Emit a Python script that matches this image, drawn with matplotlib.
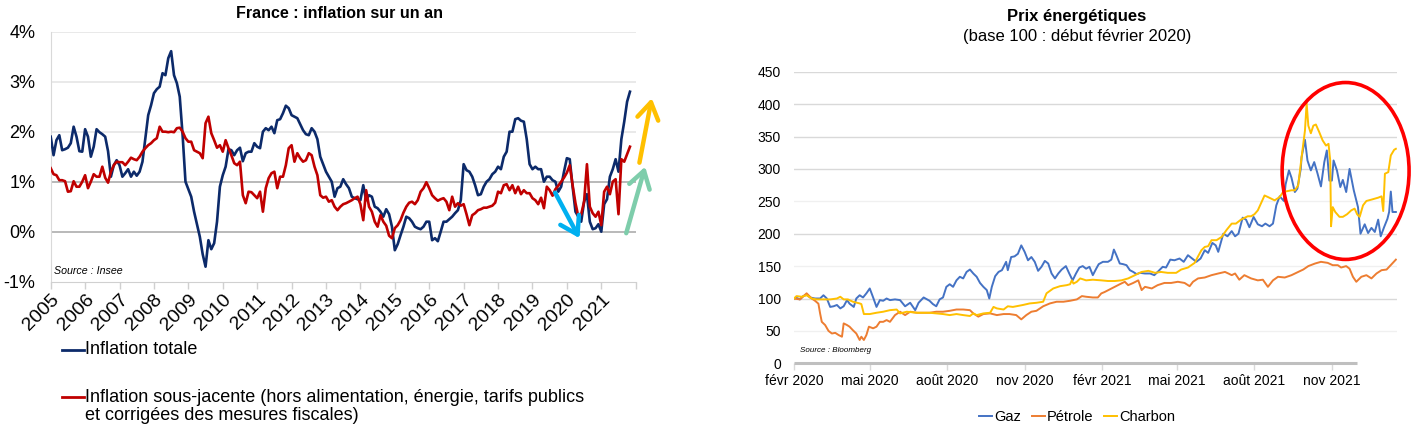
import numpy as np
import pandas as pd
import matplotlib
matplotlib.use('Agg')
import matplotlib.pyplot as plt
import matplotlib.dates as mdates
from matplotlib.lines import Line2D
from matplotlib.patches import Ellipse

plt.rcParams['font.family'] = ['Liberation Sans', 'DejaVu Sans']

# ---------------- Left chart data (monthly, Jan 2005 - Nov 2021, % y/y) -------------
years = [str(y) for y in range(2005, 2022)]
infl_totale = [
    1.9, 1.53, 1.83, 1.93, 1.63, 1.65, 1.68, 1.77, 2.1, 1.9, 1.61, 1.6,
    2.05, 1.9, 1.5, 1.7, 2.05, 1.99, 1.95, 1.9, 1.61, 1.1, 1.33, 1.43,
    1.33, 1.1, 1.17, 1.25, 1.1, 1.2, 1.12, 1.2, 1.4, 1.87, 2.33, 2.53,
    2.77, 2.85, 2.9, 3.17, 3.13, 3.47, 3.61, 3.13, 2.97, 2.7, 1.93, 1.0,
    0.85, 0.7, 0.4, 0.15, -0.1, -0.45, -0.7, -0.17, -0.35, -0.23, 0.2, 0.9,
    1.13, 1.3, 1.65, 1.63, 1.53, 1.63, 1.68, 1.41, 1.57, 1.6, 1.6, 1.77,
    1.7, 1.67, 2.0, 2.07, 2.03, 2.1, 1.97, 2.23, 2.25, 2.37, 2.52, 2.47,
    2.33, 2.3, 2.27, 2.15, 2.03, 1.95, 1.93, 2.07, 2.0, 1.85, 1.5, 1.35,
    1.2, 1.1, 1.0, 0.7, 0.87, 0.9, 1.05, 0.95, 0.87, 0.7, 0.67, 0.65,
    0.63, 0.93, 0.63, 0.73, 0.7, 0.5, 0.47, 0.4, 0.3, 0.45, 0.35, 0.1,
    -0.37, -0.25, -0.07, 0.1, 0.3, 0.27, 0.2, 0.1, 0.07, 0.05, 0.1, 0.2,
    0.2, -0.17, -0.13, -0.19, 0.0, 0.2, 0.2, 0.25, 0.3, 0.37, 0.43, 0.63,
    1.35, 1.23, 1.2, 1.1, 0.93, 0.73, 0.75, 0.9, 1.0, 1.05, 1.15, 1.2,
    1.3, 1.25, 1.5, 1.6, 2.0, 2.0, 2.25, 2.27, 2.22, 2.2, 1.85, 1.35,
    1.25, 1.3, 1.25, 1.25, 1.0, 1.1, 1.1, 1.03, 1.0, 0.8, 0.9, 1.2,
    1.47, 1.45, 0.9, 0.4, 0.3, 0.2, 0.6, 0.75, 0.2, 0.05, 0.07, 0.15,
    0.0, 0.55, 0.65, 1.1, 1.25, 1.45, 1.2, 1.85, 2.2, 2.6, 2.8,
]
infl_sous_jacente = [
    1.27, 1.15, 1.13, 1.03, 1.03, 1.01, 0.8, 0.81, 1.01, 0.9, 0.9, 1.0,
    1.13, 0.87, 1.0, 1.15, 1.1, 1.1, 1.3, 1.08, 0.98, 1.2, 1.33, 1.4,
    1.39, 1.39, 1.33, 1.4, 1.48, 1.45, 1.43, 1.5, 1.6, 1.67, 1.73, 1.77,
    1.83, 1.87, 2.1, 2.0, 2.0, 1.99, 2.0, 1.99, 2.07, 2.08, 2.0, 1.87,
    1.8, 1.8, 1.63, 1.6, 1.57, 1.47, 2.17, 2.3, 1.97, 1.83, 1.68, 1.73,
    1.6, 1.83, 1.67, 1.53, 1.37, 1.33, 1.4, 0.73, 0.57, 0.8, 0.79, 0.73,
    0.67, 0.8, 0.4, 0.87, 1.07, 1.17, 1.2, 0.87, 1.1, 1.1, 1.33, 1.67,
    1.73, 1.4, 1.57, 1.47, 1.4, 1.43, 1.57, 1.53, 1.3, 1.13, 0.73, 0.68,
    0.7, 0.6, 0.63, 0.5, 0.43, 0.5, 0.55, 0.57, 0.6, 0.63, 0.67, 0.7,
    0.55, 0.23, 0.83, 0.5, 0.4, 0.2, 0.1, 0.33, 0.2, 0.12, -0.08, -0.13,
    0.07, 0.13, 0.23, 0.38, 0.5, 0.58, 0.6, 0.55, 0.63, 0.8, 0.87, 0.99,
    0.87, 0.73, 0.67, 0.62, 0.65, 0.67, 0.6, 0.43, 0.7, 0.5, 0.57, 0.52,
    0.55, 0.35, 0.13, 0.33, 0.37, 0.43, 0.45, 0.48, 0.48, 0.5, 0.52, 0.58,
    0.8, 0.77, 0.93, 0.95, 0.83, 0.93, 0.77, 0.9, 0.75, 0.83, 0.77, 0.77,
    0.67, 0.63, 0.55, 0.68, 0.47, 0.9, 0.83, 0.72, 0.85, 0.92, 1.0, 1.08,
    1.18, 1.33, 0.93, 0.57, 0.3, 0.35, 0.6, 1.35, 0.5, 0.37, 0.3, 0.4,
    0.13, 0.8, 0.9, 0.75, 1.0, 1.05, 0.35, 1.45, 1.4, 1.55, 1.7,
]
left_yticks = [-1, 0, 1, 2, 3, 4]
left_yticklabels = ['-1%', '0%', '1%', '2%', '3%', '4%']

# ---------------- Right chart data (days since 1 Feb 2020, base 100) -------------
gaz_days = [0, 3, 7, 11, 15, 19, 25, 31, 35, 39, 43, 47, 51, 55, 59, 63, 66, 71, 74, 78, 82, 86, 90, 94,
            98, 102, 106, 110, 114, 120, 126, 132, 138, 144, 148, 154, 158, 161, 165, 169, 173, 177,
            181, 185, 189, 193, 197, 201, 205, 209, 213, 217, 221, 225, 229, 232, 235, 239, 243, 247,
            252, 254, 258, 262, 266, 270, 274, 278, 282, 286, 290, 294, 298, 302, 306, 310, 314, 318,
            323, 327, 331, 335, 339, 343, 347, 351, 355, 359, 362, 367, 373, 377, 380, 383, 387, 391,
            395, 399, 403, 407, 411, 417, 423, 428, 432, 438, 442, 447, 452, 458, 463, 468, 473, 478,
            483, 488, 492, 497, 501, 504, 510, 515, 520, 524, 528, 533, 537, 541, 546, 551, 556, 560,
            565, 569, 573, 577, 582, 584, 588, 591, 595, 598, 602, 603, 607, 610, 614, 618, 622, 626,
            630, 633, 636, 639, 641, 645, 649, 652, 656, 660, 665, 670, 673, 678, 682, 686, 690, 694,
            697, 701, 705, 707, 709, 711, 715]
gaz = [100, 101, 98.6, 103.7, 106, 101.6, 100, 100, 105, 100, 87, 88, 90, 84.7, 88, 97.5, 92, 87, 100,
       105, 101.6, 108, 115.5, 101.6, 87, 97.5, 96.5, 100, 97.5, 98.6, 97.5, 88, 93.4, 82, 93.4, 101.6,
       98.6, 96.5, 91.4, 88, 98.6, 101.6, 118, 122, 118, 128, 133.5, 131, 141, 144.7, 138.6, 133.5, 124,
       118, 113, 100, 118, 134.5, 141, 143.7, 156.6, 143.7, 164, 165, 169, 182, 172, 159, 164, 156.6,
       142.7, 148.9, 158, 154, 138.6, 131, 138.6, 144.7, 150, 138.6, 128, 138.6, 147.8, 150, 146, 148.9,
       136, 146, 153, 156.6, 156.6, 160, 175.5, 166.8, 154, 153, 151.4, 143.7, 141, 137.6, 139.6, 138.6,
       138.6, 136, 141, 148.9, 147.8, 160, 159, 161.7, 156.6, 166.8, 161.7, 156.6, 161.7, 174.5, 170.4,
       185.8, 182, 172, 200, 196, 204, 196, 200, 224.8, 221.7, 210, 225.8, 214.5, 211.5, 215.6, 211.5,
       215.6, 243.8, 257.7, 250.5, 276, 297.7, 286.4, 264.3, 269.5, 300, 318, 345, 313, 297.7, 310.5,
       292.6, 273, 310.5, 328.5, 282, 282, 313, 297.7, 272, 283, 264.3, 300, 267, 241, 200, 214.5, 201,
       209, 202.7, 221.7, 196, 210, 223, 233.5, 265, 233.5, 233.5]

petrole_days = [0, 7, 15, 21, 25, 29, 31, 33, 37, 41, 45, 49, 53, 57, 59, 63, 66, 70, 74, 78, 80, 83, 86,
                89, 94, 98, 102, 106, 110, 114, 120, 126, 132, 138, 146, 154, 161, 169, 177, 185, 193,
                201, 209, 213, 219, 225, 233, 241, 249, 256, 264, 270, 276, 282, 288, 296, 304, 312, 320,
                328, 336, 342, 347, 355, 361, 365, 369, 375, 381, 387, 393, 397, 403, 409, 413, 417, 425,
                432, 440, 448, 456, 464, 470, 474, 480, 488, 496, 504, 512, 516, 520, 524, 529, 535, 543,
                551, 557, 563, 569, 575, 583, 591, 599, 605, 611, 619, 626, 634, 640, 646, 650, 656, 660,
                664, 668, 674, 680, 686, 692, 698, 704, 710, 715]
petrole = [100, 98.6, 108, 100, 96.5, 92, 77, 64, 59, 50, 46, 47, 43.6, 41, 61.6, 59, 56.5, 51, 46, 36,
           41, 36, 43.6, 56.5, 54, 56.5, 64, 64, 66.7, 64, 74.4, 79.6, 74.4, 79.6, 78, 78, 78, 79.6, 79.6,
           81, 83, 83, 82, 77, 72, 76, 77, 74.4, 76, 76, 74.4, 67.8, 74.4, 79.6, 81, 88, 92.4, 95, 95, 96.5,
           98.6, 103.7, 102.7, 101.6, 101.6, 107.8, 110, 114, 118, 122, 125.8, 120.6, 124, 128, 113, 118,
           115.5, 120.6, 124, 124, 125.8, 124, 119, 125.8, 131, 132.4, 136, 138.6, 141, 138.6, 136, 138.6,
           129, 136, 131, 128, 129, 118, 128, 133.5, 132.4, 136, 141, 144.7, 150, 154, 156.6, 155, 151.4,
           151.4, 147.8, 150, 146, 133.5, 125.8, 133.5, 136, 131, 138.6, 143.7, 144.7, 153, 160]

charbon_days = [0, 3, 9, 15, 21, 27, 35, 43, 51, 55, 59, 64, 70, 78, 80, 83, 90, 98, 106, 114, 122, 126,
                134, 146, 154, 161, 169, 177, 185, 193, 201, 209, 213, 217, 225, 233, 237, 241, 249, 254,
                260, 272, 280, 288, 296, 300, 308, 316, 324, 328, 330, 332, 336, 340, 347, 355, 365, 373,
                381, 389, 397, 405, 413, 421, 429, 436, 444, 454, 460, 468, 476, 480, 484, 488, 492, 496,
                502, 508, 514, 520, 525, 531, 539, 543, 547, 551, 555, 559, 563, 571, 577, 581, 587, 591,
                595, 599, 603, 607, 609, 611, 614, 617, 620, 624, 628, 632, 635, 637, 638, 640, 643, 648,
                652, 657, 662, 666, 669, 672, 676, 680, 686, 694, 698, 700, 702, 706, 709, 713, 715]
charbon = [100, 103.7, 102.7, 105, 100, 98.6, 98.6, 98.6, 100, 102.7, 98.6, 98.6, 95, 92.4, 91.4, 76, 76,
           78, 79.6, 82, 83, 77, 79.6, 78, 78, 78, 77, 76, 74.4, 76, 74.4, 73, 77, 74.4, 77, 78, 87, 84.7,
           83, 88, 87, 90, 92.4, 93.4, 95, 108, 115.5, 119, 120.6, 122, 128, 123, 125.8, 131, 128, 129, 128,
           127, 127, 128, 131, 136, 141, 142.7, 139.6, 141, 139.6, 139.6, 144.7, 147.8, 155, 165, 174.5,
           179.6, 180.7, 190, 190, 195, 206, 215.6, 215.6, 221.7, 226.9, 226.9, 230, 236, 247.4, 259, 256.6,
           251.5, 256.6, 264.3, 265.9, 267, 267, 274.6, 318, 359, 401.4, 366.8, 355, 366.8, 368.5, 356.7,
           344, 336, 338.7, 313, 211.5, 241, 233.5, 226, 226, 230, 236, 238.7, 230, 226, 243.8, 250.5,
           252.6, 255.6, 257.7, 235, 292.6, 295, 320.8, 329.5, 331]

right_tick_dates = ['2020-02-01', '2020-05-01', '2020-08-01', '2020-11-01',
                    '2021-02-01', '2021-05-01', '2021-08-01', '2021-11-01']
right_tick_labels = ['févr 2020', 'mai 2020', 'août 2020', 'nov 2020',
                     'févr 2021', 'mai 2021', 'août 2021', 'nov 2021']

# ---------------- Figure ----------------
W, H = 1418, 432
fig = plt.figure(figsize=(W / 100, H / 100), dpi=100)


def fx(px):
    return px / W


def fy(py):
    return 1 - py / H


NAVY = '#0c2a6a'
RED = '#c00000'

# ---------- Left ----------
axL = fig.add_axes([fx(50.7), fy(281.7), fx(635.7) - fx(50.7), fy(31.7) - fy(281.7)])
months = np.arange(len(infl_totale))
for v in left_yticks[1:]:
    axL.axhline(v, color='#a6a6a6' if v in (0, 1) else '#e3e3e3', lw=1.1, zorder=1)
axL.plot(months, infl_totale, color=NAVY, lw=1.9, zorder=3)
axL.plot(months, infl_sous_jacente, color=RED, lw=1.9, zorder=4)
axL.set_xlim(0, 204)
axL.set_ylim(-1, 4)
axL.set_yticks(left_yticks)
axL.set_yticklabels(left_yticklabels)
axL.set_xticks(np.arange(0, 205, 12))
axL.set_xticklabels(years + [''], rotation=45, ha='right', rotation_mode='anchor')
for s in ['top', 'right']:
    axL.spines[s].set_visible(False)
axL.spines['left'].set_color('#d9d9d9')
axL.spines['bottom'].set_color('#d0d0d0')
axL.tick_params(axis='y', length=0, pad=11, labelsize=13, colors='#000000')
axL.tick_params(axis='x', length=5, width=1, color='#d0d0d0', pad=2, labelsize=14)

arrow_kw = dict(arrowstyle='->,head_length=0.6,head_width=0.38', lw=3.2,
                mutation_scale=20, shrinkA=0, shrinkB=0)
axL.annotate('', xy=(184.4, -0.13), xytext=(175.9, 0.78),
             arrowprops=dict(color='#00b0f0', **arrow_kw), annotation_clip=False, zorder=6)
axL.annotate('', xy=(207.3, 1.3), xytext=(200.7, -0.03),
             arrowprops=dict(color='#7ecdab', **arrow_kw), annotation_clip=False, zorder=6)
axL.annotate('', xy=(209.6, 2.67), xytext=(205.3, 1.38),
             arrowprops=dict(color='#ffc000', **arrow_kw), annotation_clip=False, zorder=6)

fig.text(fx(54), fy(271), 'Source : Insee', fontsize=7.7, style='italic', va='center')
fig.text(fx(340), fy(13), 'France : inflation sur un an', ha='center', va='center',
         fontsize=11.5, fontweight='bold')

# left legend
fig.add_artist(Line2D([fx(62), fx(84)], [fy(350), fy(350)], color=NAVY, lw=2))
fig.text(fx(85), fy(350), 'Inflation totale', va='center', fontsize=13)
fig.add_artist(Line2D([fx(62), fx(84)], [fy(397), fy(397)], color=RED, lw=2))
fig.text(fx(85), fy(397), 'Inflation sous-jacente (hors alimentation, énergie, tarifs publics',
         va='center', fontsize=13)
fig.text(fx(85), fy(416), 'et corrigées des mesures fiscales)', va='center', fontsize=13)

# ---------- Right ----------
axR = fig.add_axes([fx(794), fy(363.3), fx(1396.7) - fx(794), fy(71.7) - fy(363.3)])
base = pd.Timestamp('2020-02-01')
gaz_dates = base + pd.to_timedelta(gaz_days, unit='D')
pet_dates = base + pd.to_timedelta(petrole_days, unit='D')
coal_dates = base + pd.to_timedelta(charbon_days, unit='D')

for v in range(50, 451, 50):
    axR.axhline(v, color='#f0f0f0' if v in (50, 150, 250) else '#d9d9d9', lw=1, zorder=1)
l1, = axR.plot(gaz_dates, gaz, color='#4472c4', lw=1.4, zorder=3)
l2, = axR.plot(pet_dates, petrole, color='#ed7d31', lw=1.4, zorder=3)
l3, = axR.plot(coal_dates, charbon, color='#ffc000', lw=1.4, zorder=4)
axR.set_xlim(base, base + pd.Timedelta(days=716))
axR.set_ylim(0, 450)
axR.set_yticks(range(0, 451, 50))
tick_pos = pd.to_datetime(right_tick_dates)
axR.set_xticks(tick_pos)
axR.set_xticklabels(right_tick_labels)
for s in ['top', 'right', 'left', 'bottom']:
    axR.spines[s].set_visible(False)
axR.plot([base, pd.Timestamp('2021-12-01')], [0, 0], color='#bfbfbf', lw=2.2,
         clip_on=False, zorder=2, solid_capstyle='butt')
axR.tick_params(axis='y', length=0, pad=9.5, labelsize=10)
axR.tick_params(axis='x', length=5, width=1, color='#d9d9d9', pad=3, labelsize=10)

ell = Ellipse((mdates.date2num(base + pd.Timedelta(days=655.3)), 296.8), width=150.8, height=273,
              fill=False, ec='#ff0000', lw=2.6, clip_on=False, zorder=6)
axR.add_patch(ell)

fig.text(fx(800), fy(351), 'Source : Bloomberg', fontsize=5.8, style='italic', va='center')
fig.text(fx(1077), fy(17), 'Prix énergétiques', ha='center', va='center', fontsize=12,
         fontweight='bold')
fig.text(fx(1077), fy(36), '(base 100 : début février 2020)', ha='center', va='center', fontsize=12)

fig.legend([l1, l2, l3], ['Gaz', 'Pétrole', 'Charbon'], loc='center',
           bbox_to_anchor=(fx(1077), fy(417)), ncol=3, frameon=False, fontsize=10.5,
           handlelength=0.9, handletextpad=0.15, columnspacing=0.7, borderpad=0)

fig.savefig('out.png', dpi=100)
